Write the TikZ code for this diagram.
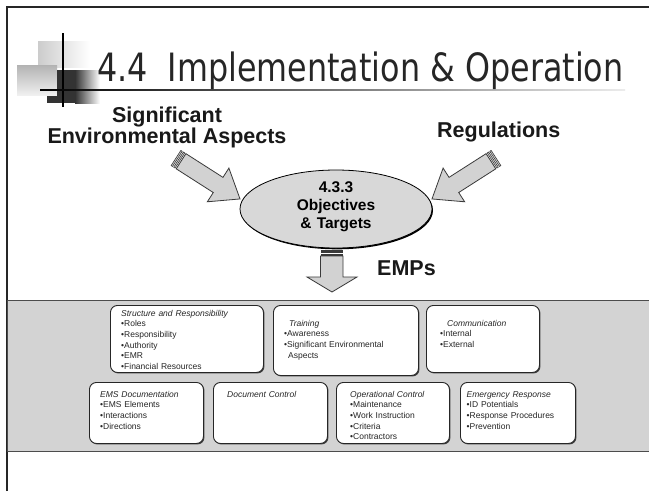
\documentclass[tikz,border=0pt]{standalone}
\usepackage{fontspec}
\setmainfont{Liberation Sans}
\newfontfamily\titlefont{DejaVu Sans}
\usetikzlibrary{shadows}
\definecolor{bandfill}{HTML}{D3D3D3}
\definecolor{arrowfill}{HTML}{D2D2D2}
\definecolor{arrowline}{HTML}{3A3A3A}
\definecolor{ellfill}{HTML}{D8D8D8}
\tikzset{
  bigtxt/.style={inner sep=0, font=\fontsize{21.5}{21.5}\selectfont\bfseries, text=black!90},
  boxst/.style={draw=black!85, fill=white, line width=0.9pt, rounded corners=7pt, anchor=north west,
    drop shadow={shadow xshift=1pt, shadow yshift=-1pt, fill=black!75, opacity=1}},
  smalltxt/.style={inner sep=0, anchor=base west, text width=150pt, align=left,
    font=\fontsize{8.5}{10.7}\selectfont, text=black!85},
  stripedarrow/.pic={
    \filldraw[fill=arrowfill, draw=arrowline, line width=0.8pt]
      (6,-9) -- (50,-9) -- (50,-20) -- (76,0) -- (50,20) -- (50,9) -- (6,9) -- cycle;
    \filldraw[fill=arrowfill, draw=arrowline, line width=0.6pt] (0,-9) rectangle (1.6,9);
    \filldraw[fill=arrowfill, draw=arrowline, line width=0.6pt] (3,-9) rectangle (4.6,9);
  }
}
\begin{document}
\begin{tikzpicture}[x=1pt,y=-1pt]
\useasboundingbox (0,0) rectangle (649,491);
\fill[white] (0,0) rectangle (649,491);
% slide frame
\draw[line width=1.5pt, black!85] (7,491) -- (7,7) -- (649,7);
% decorative squares
\fill[left color=gray!40, right color=white] (38,41) rectangle (90,67);
\fill[top color=gray!60, bottom color=gray!12] (17,65) rectangle (57,95);
\fill[black!80] (57,70) rectangle (75,103);
\fill[left color=black!80, right color=white] (75,70) rectangle (100,103);
\fill[black!80] (47,96) rectangle (57,103);
\draw[line width=1.2pt] (63,33) -- (63,107);
\fill[left color=black, right color=gray!15] (40,89.3) rectangle (625,90.7);
% title
\node[anchor=base west, inner sep=0, text=black!85] (title) at (97,81)
  {\scalebox{0.815}[1]{\titlefont\fontsize{39}{39}\selectfont 4.4\ \ Implementation \& Operation}};
% labels
\node[bigtxt, anchor=base] (sig1) at (167,122) {Significant};
\node[bigtxt, anchor=base] (sig2) at (167,143) {Environmental Aspects};
\node[bigtxt, anchor=base west] (reg) at (437,137) {Regulations};
\node[bigtxt, anchor=base west] (emps) at (377,275) {EMPs};
% block arrows
\pic[rotate=-32.6] (leftarrow) at (176,158) {stripedarrow};
\pic[rotate=-147.4] (rightarrow) at (496,158) {stripedarrow};
\fill[arrowline] (320.5,250) rectangle (343,252.5);
\fill[arrowline] (320.5,253.5) rectangle (343,255.5);
\filldraw[fill=arrowfill, draw=arrowline, line width=0.8pt]
  (320.5,256) -- (343,256) -- (343,277) -- (357,277) -- (332,292) -- (307,277) -- (320.5,277) -- cycle;
% ellipse
\fill[black] (337,210.3) ellipse [x radius=96, y radius=39];
\filldraw[fill=ellfill, draw=black, line width=0.8pt] (336,209) ellipse [x radius=96, y radius=39];
\node[inner sep=0, anchor=base, text width=130pt, align=center,
  font=\fontsize{15.5}{18}\selectfont\bfseries] (obj) at (336,192) {4.3.3\\Objectives\\\& Targets};
% band
\draw[fill=bandfill, draw=gray!60!black, line width=1pt] (7,300) rectangle (650,451);
% boxes
\node[boxst, minimum width=153pt, minimum height=67pt] (b1) at (110,305) {};
\node[boxst, minimum width=145pt, minimum height=70pt] (b2) at (273,305) {};
\node[boxst, minimum width=113pt, minimum height=67pt] (b3) at (426,305) {};
\node[boxst, minimum width=114pt, minimum height=61pt] (b4) at (89,382) {};
\node[boxst, minimum width=114pt, minimum height=61pt] (b5) at (213,382) {};
\node[boxst, minimum width=113pt, minimum height=61pt] (b6) at (336,382) {};
\node[boxst, minimum width=115pt, minimum height=61pt] (b7) at (460,382) {};
% box texts
\node[smalltxt] (t1) at (121,316) {\textit{Structure and Responsibility}\\•Roles\\•Responsibility\\•Authority\\•EMR\\•Financial Resources};
\node[smalltxt] (t2) at (284,326) {\hspace*{5pt}\textit{Training}\\•Awareness\\•Significant Environmental\\\hspace*{4pt}Aspects};
\node[smalltxt] (t3) at (440,326) {\hspace*{7pt}\textit{Communication}\\•Internal\\•External};
\node[smalltxt] (t4) at (100,397) {\textit{EMS Documentation}\\•EMS Elements\\•Interactions\\•Directions};
\node[smalltxt] (t5) at (227,397) {\textit{Document Control}};
\node[smalltxt] (t6) at (350,397) {\textit{Operational Control}\\•Maintenance\\•Work Instruction\\•Criteria\\•Contractors};
\node[smalltxt] (t7) at (466.5,397) {\textit{Emergency Response}\\•ID Potentials\\•Response Procedures\\•Prevention};
\end{tikzpicture}
\end{document}
